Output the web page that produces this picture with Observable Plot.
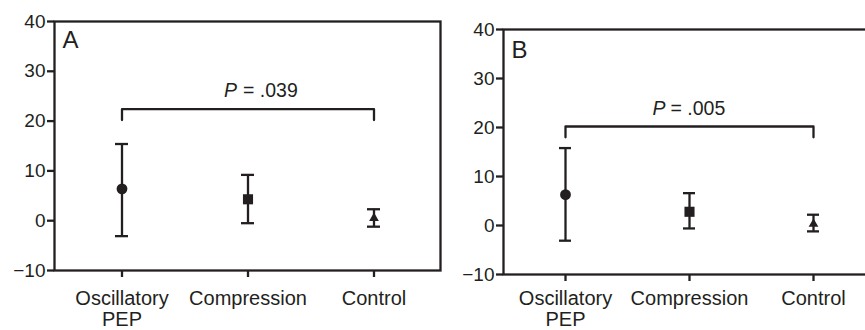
<!DOCTYPE html>
<html><head><meta charset="utf-8">
<script src="https://cdn.jsdelivr.net/npm/d3@7"></script>
<script src="https://cdn.jsdelivr.net/npm/@observablehq/plot@0.6"></script>
<style>
html,body{margin:0;padding:0;background:#fff;overflow:hidden;}
#row{display:flex;width:870px;align-items:flex-start;}
</style></head><body><div id="row"></div>
<script>
// ---- data ----
const categories = ["Oscillatory PEP", "Compression", "Control"];
const categoryLabels = ["Oscillatory\nPEP", "Compression", "Control"];
const markers = ["circle", "square", "triangle"];
const yTicks = [-10, 0, 10, 20, 30, 40];
const panelLetters = ["A", "B"];

const meanA = [6.4, 4.3, 0.5];
const lowA  = [-3.1, -0.5, -1.2];
const highA = [15.4, 9.2, 2.3];

const meanB = [6.3, 2.8, 0.3];
const lowB  = [-3.1, -0.6, -1.2];
const highB = [15.8, 6.6, 2.2];

const pValues = [".039", ".005"];
const bracketFrom = ["Oscillatory PEP", "Oscillatory PEP"];
const bracketTo = ["Control", "Control"];
const bracketTop = [22.4, 20.2];
const bracketFoot = [20.2, 18.0];
const pLabelY = [24.75, 22.5];

// ---- styles ----
const ink = "#231f20";
const font = "'Liberation Sans', Arial, Helvetica, sans-serif";
const markerSize = {circle: 5.4, square: 5.7, triangle: 3.6};
const fmtY = d => d < 0 ? "\u2212" + Math.abs(d) : String(d);

function panel(i, mean, low, high, layout) {
  const rows = categories.map((c, k) => ({cat: c, mean: mean[k], lo: low[k], hi: high[k], marker: markers[k]}));
  const bracket = [
    {x: bracketFrom[i], y: bracketFoot[i]},
    {x: bracketFrom[i], y: bracketTop[i]},
    {x: bracketTo[i], y: bracketTop[i]},
    {x: bracketTo[i], y: bracketFoot[i]}
  ];
  const labelOf = Object.fromEntries(categories.map((c, k) => [c, categoryLabels[k]]));
  return Plot.plot({
    width: layout.width,
    height: 330,
    marginLeft: layout.marginLeft,
    marginRight: layout.marginRight,
    marginTop: layout.marginTop,
    marginBottom: layout.marginBottom,
    style: {fontFamily: font, fontSize: "18px", color: ink, background: "white", overflow: "visible"},
    x: {type: "band", domain: categories, paddingInner: 0.9, paddingOuter: layout.paddingOuter, insetRight: layout.insetRight},
    y: {domain: [-10, 40]},
    marks: [
      Plot.frame({stroke: ink, strokeWidth: 2.3}),
      Plot.axisY({ticks: yTicks, tickSize: 7, tickFormat: () => "", label: null, strokeWidth: 2.3, stroke: ink}),
      Plot.text(yTicks, {y: d => d, text: fmtY, frameAnchor: "left", textAnchor: "end", dx: -9,
                 fontSize: 19, fill: ink}),
      Plot.axisX({tickSize: 7, tickPadding: layout.xPad, fontSize: 20, lineHeight: 1.08, label: null, strokeWidth: 2.3, stroke: ink, fill: ink,
                  tickFormat: d => labelOf[d]}),
      Plot.ruleX(rows, {x: "cat", y1: "lo", y2: "hi", stroke: ink, strokeWidth: 2.3}),
      Plot.tickY(rows, {x: "cat", y: "lo", stroke: ink, strokeWidth: 2.3}),
      Plot.tickY(rows, {x: "cat", y: "hi", stroke: ink, strokeWidth: 2.3}),
      ...rows.map(r => Plot.dot([r], {x: "cat", y: "mean", symbol: r.marker, r: markerSize[r.marker], fill: ink, stroke: "none"})),
      Plot.line(bracket, {x: "x", y: "y", stroke: ink, strokeWidth: 2.3, curve: "linear"}),
      Plot.text([pLabelY[i]], {x: () => "Compression", y: d => d, text: () => "P", fontStyle: "italic",
                 textAnchor: "end", lineAnchor: "bottom", dx: layout.pDx, fontSize: 19.5, fill: ink}),
      Plot.text([pLabelY[i]], {x: () => "Compression", y: d => d, text: () => "= " + pValues[i],
                 textAnchor: "start", lineAnchor: "bottom", dx: layout.eqDx, fontSize: 19.5, fill: ink}),
      Plot.text([panelLetters[i]], {frameAnchor: "top-left", text: d => d, lineAnchor: "top",
                 dx: 8, dy: layout.letterDy, fontSize: 24, fill: ink})
    ]
  });
}

const row = document.getElementById("row");
row.appendChild(panel(0, meanA, lowA, highA, {
  width: 445, marginLeft: 54, marginRight: 5, marginTop: 21, marginBottom: 60,
  paddingOuter: 0.47, insetRight: 0, pDx: -11, eqDx: -5, letterDy: 9, xPad: 12
}));
row.appendChild(panel(1, meanB, lowB, highB, {
  width: 425, marginLeft: 58, marginRight: 0, marginTop: 29, marginBottom: 56,
  paddingOuter: 0.45, insetRight: -5, pDx: -24, eqDx: -19, letterDy: 11, xPad: 8
}));
</script>
</body></html>
